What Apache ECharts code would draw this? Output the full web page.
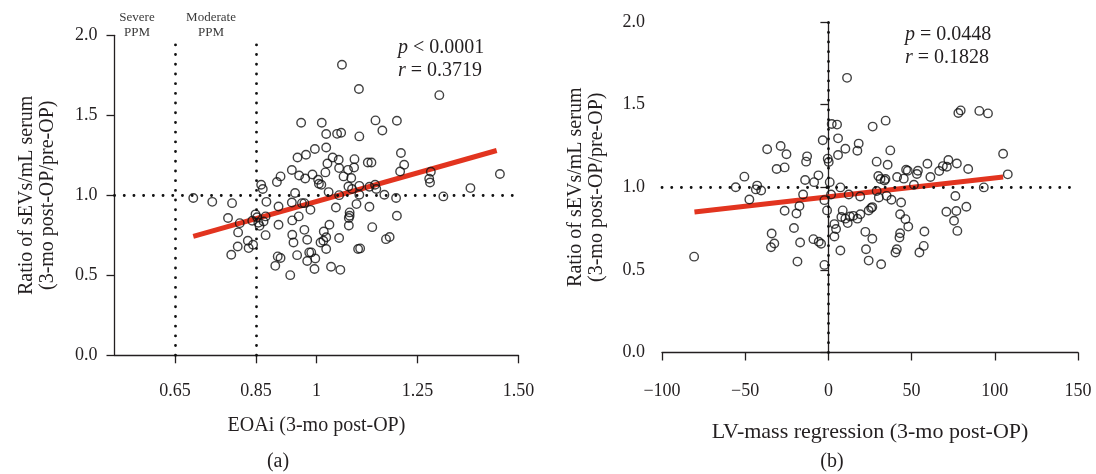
<!DOCTYPE html>
<html>
<head>
<meta charset="utf-8">
<script src="https://cdn.jsdelivr.net/npm/echarts@6/dist/echarts.min.js"></script>
<style>html,body{margin:0;padding:0;background:#fff;}#c{width:1096px;height:474px;}</style>
</head>
<body>
<div id="c"></div>
<script>
// ---- Panel (a) data: EOAi vs ratio ----
const leftX = [0.695,0.742,0.791,0.781,0.810,0.806,0.830,0.832,0.843,0.805,0.789,0.841,0.849,0.853,0.856,0.859,0.869,0.874,0.863,0.867,0.876,0.874,0.906,0.906,0.898,0.904,0.911,0.935,0.940,0.939,0.947,0.940,0.943,0.956,0.964,0.970,0.985,0.970,0.977,0.952,0.982,0.987,0.997,0.977,0.995,1.036,1.059,1.018,1.024,1.010,1.017,1.024,1.032,1.048,1.056,1.030,1.056,
0.962,1.013,1.024,1.024,0.996,0.974,0.953,1.027,0.939,0.911,0.902,0.957,0.972,0.990,1.004,1.006,1.012,1.022,
1.063,1.105,1.146,1.199,1.163,1.051,1.061,1.106,1.209,1.040,1.055,1.094,1.127,1.136,1.217,1.056,1.078,1.093,1.207,1.067,1.086,1.079,1.088,1.106,1.131,1.145,1.148,1.168,1.197,1.106,1.099,1.131,1.082,1.082,1.080,1.080,1.199,1.138,1.172,1.181,1.103,1.108,
1.304,1.283,1.279,1.281,1.454,1.381,1.314];
const leftY = [0.983,0.959,0.951,0.858,0.826,0.768,0.716,0.670,0.691,0.680,0.628,0.841,0.881,0.863,0.828,0.809,0.836,0.868,1.066,1.039,0.959,0.751,0.930,0.816,0.559,0.618,0.608,0.501,0.843,0.955,1.014,0.753,0.705,0.868,0.951,0.951,0.909,0.784,0.722,0.626,0.643,0.643,0.605,0.589,0.539,0.553,0.534,0.774,0.738,0.705,0.716,0.664,0.816,0.924,1.001,1.020,0.733,
1.453,1.453,1.383,1.299,1.289,1.253,1.236,1.199,1.158,1.118,1.083,1.124,1.105,1.130,1.097,1.072,1.066,1.143,
1.816,1.664,1.468,1.466,1.405,1.384,1.391,1.368,1.264,1.236,1.222,1.226,1.205,1.205,1.191,1.170,1.159,1.174,1.149,1.118,1.108,1.055,1.039,1.059,1.053,1.066,1.039,1.003,0.983,1.003,0.945,0.928,0.893,0.872,0.858,0.811,0.872,0.801,0.726,0.739,0.664,0.668,
1.626,1.147,1.103,1.080,1.133,1.045,0.993];
const leftFitX = [0.695, 1.446];
const leftFitY = [0.743, 1.280];
const leftXTicks = [0.65, 0.85, 1, 1.25, 1.5];
const leftXTickLabels = ['0.65', '0.85', '1', '1.25', '1.50'];
const leftVLines = [0.65, 0.85];

// ---- Panel (b) data: LV-mass regression vs ratio ----
const rightX = [-80.7,-36.8,-28.7,-25.2,-31.1,-26.3,-50.5,-55.7,-42.8,-43.6,-40.4,-47.5,-26.3,-34.1,-32.5,-34.5,
11.2,2.0,5.2,-3.4,5.8,18.2,26.6,34.4,10.2,17.4,5.8,37.2,-0.4,0.2,-12.8,-13.4,29,35.6,46.7,47.7,-6,-14,-8.6,30,31.3,33.7,34.3,41.3,45.3,0.8,7.2,29,-15.2,1.6,12.2,19.1,30.3,35,37.9,43.7,-2.4,-17.4,-19.2,-0.8,8.6,7.8,10.2,13,11.6,15,17.4,19.2,24.2,25.7,26.4,43.1,46.3,3.6,4.6,3.6,-20.7,22.2,26.4,43.1,42.7,-9,-5.8,-4.4,-17,7.2,22.6,41.1,40.3,-18.6,-2.4,24.2,31.7,48,
78.1,79.5,90.7,95.9,105,107.8,59.5,72.1,77.2,68.8,71.2,66.6,84,53.8,53.2,61.3,51.4,93.4,76.3,82.9,76.9,70.9,75.5,77.5,57.7,57.3,54.7];
const rightY = [0.58,1.23,1.25,1.20,1.11,1.12,1.064,1.0,1.01,0.987,0.98,0.926,0.858,0.72,0.66,0.637,
1.662,1.383,1.379,1.284,1.296,1.264,1.367,1.403,1.233,1.221,1.195,1.223,1.173,1.153,1.187,1.155,1.155,1.136,1.106,1.10,1.072,1.044,1.031,1.068,1.05,1.041,1.05,1.062,1.052,1.031,0.999,0.977,0.956,0.956,0.956,0.944,0.938,0.948,0.924,0.908,0.922,0.886,0.841,0.86,0.86,0.82,0.81,0.823,0.783,0.827,0.81,0.837,0.859,0.874,0.88,0.837,0.807,0.777,0.747,0.702,0.753,0.73,0.688,0.722,0.696,0.686,0.67,0.658,0.666,0.617,0.625,0.625,0.605,0.55,0.53,0.556,0.534,0.762,
1.449,1.465,1.462,1.447,1.203,1.078,1.142,1.165,1.144,1.128,1.124,1.098,1.11,1.10,1.08,1.062,1.015,0.999,0.947,0.882,0.856,0.852,0.797,0.736,0.732,0.645,0.605];
const rightFitX = [-80.5, 105];
const rightFitY = [0.850, 1.062];
const rightVLines = [0];
const refY = 1.0;

const zip = (a, b) => a.map((v, i) => [v, b[i]]);

const FONT = '"Liberation Serif", "DejaVu Serif", serif';
const INK = '#231f20';
const RED = '#e2341f';

const axisLine = { show: true, lineStyle: { color: INK, width: 1.3 } };
const tickStyle = { show: true, length: 8, lineStyle: { color: INK, width: 1.3 } };
const lblStyle = { color: INK, fontSize: 18, fontFamily: FONT };
const nameStyle = { color: INK, fontSize: 20, fontFamily: FONT, lineHeight: 21 };
const yName = 'Ratio of sEVs/mL serum\n(3-mo post-OP/pre-OP)';

const dotted = { color: '#111', width: 2.8, type: [0.1, 9.6], cap: 'round' };
function refLines(vs) {
  return {
    silent: true, symbol: ['none', 'none'], label: { show: false },
    lineStyle: dotted, emphasis: { disabled: true }, animation: false,
    data: vs.map(v => ({ xAxis: v })).concat([{ yAxis: refY }])
  };
}
const scatterStyle = { color: 'rgba(0,0,0,0)', borderColor: '#111', borderWidth: 1.4 };

const option = {
  animation: false,
  grid: [
    { left: 114.5, top: 35.3, width: 404, height: 320 },
    { left: 662, top: 22, width: 416, height: 330.5 }
  ],
  xAxis: [
    {
      gridIndex: 0, type: 'value', min: 0.5, max: 1.5,
      splitLine: { show: false }, axisLine: axisLine,
      axisTick: Object.assign({}, tickStyle, { customValues: leftXTicks }),
      axisLabel: Object.assign({}, lblStyle, {
        customValues: leftXTicks, margin: 27,
        formatter: v => { const i = leftXTicks.findIndex(t => Math.abs(t - v) < 1e-6); return i >= 0 ? leftXTickLabels[i] : ''; }
      }),
      name: 'EOAi (3-mo post-OP)', nameLocation: 'middle', nameGap: 60, nameTextStyle: nameStyle
    },
    {
      gridIndex: 1, type: 'value', min: -100, max: 150, interval: 50,
      splitLine: { show: false }, axisLine: axisLine, axisTick: tickStyle,
      axisLabel: Object.assign({}, lblStyle, { margin: 30, formatter: v => String(v).replace('-', '\u2212') }),
      name: 'LV-mass regression (3-mo post-OP)', nameLocation: 'middle', nameGap: 69,
      nameTextStyle: Object.assign({}, nameStyle, { fontSize: 22 })
    }
  ],
  yAxis: [
    {
      gridIndex: 0, type: 'value', min: 0, max: 2, interval: 0.5,
      splitLine: { show: false }, axisLine: axisLine, axisTick: tickStyle,
      axisLabel: Object.assign({}, lblStyle, { margin: 17, formatter: v => v.toFixed(1) }),
      name: yName, nameLocation: 'middle', nameGap: 56, nameTextStyle: nameStyle
    },
    {
      gridIndex: 1, type: 'value', min: 0, max: 2, interval: 0.5,
      splitLine: { show: false }, axisLine: axisLine, axisTick: tickStyle,
      axisLabel: Object.assign({}, lblStyle, { margin: 17, formatter: v => v.toFixed(1) }),
      name: yName, nameLocation: 'middle', nameGap: 55, nameTextStyle: nameStyle
    }
  ],
  series: [
    {
      type: 'line', xAxisIndex: 0, yAxisIndex: 0, data: zip(leftFitX, leftFitY),
      showSymbol: false, symbol: 'none', silent: true, z: 1,
      lineStyle: { color: RED, width: 5 }
    },
    {
      type: 'scatter', xAxisIndex: 0, yAxisIndex: 0, data: zip(leftX, leftY),
      symbol: 'circle', symbolSize: 8.5, itemStyle: scatterStyle, z: 3,
      markLine: refLines(leftVLines)
    },
    {
      type: 'line', xAxisIndex: 1, yAxisIndex: 1, data: zip(rightFitX, rightFitY),
      showSymbol: false, symbol: 'none', silent: true, z: 1,
      lineStyle: { color: RED, width: 5 }
    },
    {
      type: 'scatter', xAxisIndex: 1, yAxisIndex: 1, data: zip(rightX, rightY),
      symbol: 'circle', symbolSize: 8.5, itemStyle: scatterStyle, z: 3,
      markLine: refLines(rightVLines)
    }
  ],
  graphic: [
    { type: 'text', x: 137, y: 10, style: { text: 'Severe\nPPM', align: 'center', verticalAlign: 'top', fontSize: 13, fontFamily: FONT, fill: '#3a3a3a', lineHeight: 15 } },
    { type: 'text', x: 211, y: 10, style: { text: 'Moderate\nPPM', align: 'center', verticalAlign: 'top', fontSize: 13, fontFamily: FONT, fill: '#3a3a3a', lineHeight: 15 } },
    { type: 'text', x: 398, y: 36, style: { text: '{i|p} < 0.0001\n{i|r} = 0.3719', fontSize: 20, fontFamily: FONT, fill: INK, lineHeight: 23,
      rich: { i: { fontStyle: 'italic', fontSize: 20, fontFamily: FONT, fill: INK, lineHeight: 23 } } } },
    { type: 'text', x: 905, y: 23, style: { text: '{i|p} = 0.0448\n{i|r} = 0.1828', fontSize: 20, fontFamily: FONT, fill: INK, lineHeight: 23,
      rich: { i: { fontStyle: 'italic', fontSize: 20, fontFamily: FONT, fill: INK, lineHeight: 23 } } } },
    { type: 'text', x: 278, y: 462, style: { text: '(a)', align: 'center', verticalAlign: 'middle', fontSize: 20, fontFamily: FONT, fill: INK } },
    { type: 'text', x: 832, y: 462, style: { text: '(b)', align: 'center', verticalAlign: 'middle', fontSize: 20, fontFamily: FONT, fill: INK } }
  ]
};

const chart = echarts.init(document.getElementById('c'), null, { renderer: 'canvas' });
chart.setOption(option);
</script>
</body>
</html>
